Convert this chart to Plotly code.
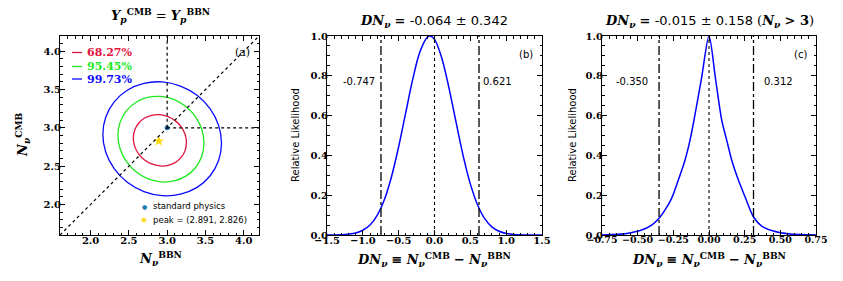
import plotly.graph_objects as go

W, H = 843, 281

# ---------------- data ----------------
# panel (a): confidence contours (N_nu^BBN, N_nu^CMB)
c68_x = [3.252, 3.235, 3.186, 3.109, 3.012, 2.905, 2.798, 2.701, 2.624, 2.575,
         2.558, 2.575, 2.624, 2.701, 2.798, 2.905, 3.012, 3.109, 3.186, 3.235]
c68_y = [2.808, 2.913, 3.010, 3.091, 3.146, 3.172, 3.164, 3.125, 3.057, 2.968,
         2.866, 2.761, 2.664, 2.583, 2.528, 2.502, 2.510, 2.549, 2.617, 2.706]
c95_x = [3.481, 3.453, 3.374, 3.249, 3.093, 2.919, 2.745, 2.589, 2.464, 2.385,
         2.357, 2.385, 2.464, 2.589, 2.745, 2.919, 3.093, 3.249, 3.374, 3.453]
c95_y = [2.803, 2.978, 3.140, 3.275, 3.368, 3.410, 3.397, 3.332, 3.219, 3.071,
         2.901, 2.726, 2.564, 2.429, 2.336, 2.294, 2.307, 2.372, 2.485, 2.633]
c99_x = [3.710, 3.672, 3.562, 3.391, 3.174, 2.935, 2.696, 2.479, 2.308, 2.198,
         2.160, 2.198, 2.308, 2.479, 2.696, 2.935, 3.174, 3.391, 3.562, 3.672]
c99_y = [2.800, 3.032, 3.247, 3.425, 3.546, 3.600, 3.581, 3.492, 3.340, 3.141,
         2.914, 2.682, 2.467, 2.289, 2.168, 2.114, 2.133, 2.222, 2.374, 2.573]
contour_labels = ["68.27%", "95.45%", "99.73%"]
contour_colors = ["#e0143c", "#1ee81e", "#0a0aff"]

std_point = (3.0, 3.0)
peak_point = (2.891, 2.826)

# panel (b): relative likelihood of DN_nu
b_x = [-1.5, -1.4, -1.3, -1.2, -1.1, -1.0, -0.9, -0.8, -0.7, -0.6, -0.5, -0.4, -0.3, -0.2, -0.1, -0.064,
       0.0, 0.1, 0.2, 0.3, 0.4, 0.5, 0.6, 0.7, 0.8, 0.9, 1.0, 1.1, 1.2, 1.3, 1.4, 1.5]
b_y = [0.000, 0.000, 0.001, 0.004, 0.010, 0.024, 0.050, 0.099, 0.177, 0.293, 0.444, 0.617, 0.788, 0.924, 0.994, 1.000,
       0.983, 0.891, 0.742, 0.568, 0.398, 0.257, 0.152, 0.082, 0.041, 0.019, 0.008, 0.003, 0.001, 0.000, 0.000, 0.000]
b_bounds = [-0.747, 0.621]

# panel (c): relative likelihood of DN_nu for N_nu > 3
c_x = [-0.75, -0.694, -0.577, -0.472, -0.402, -0.350, -0.308, -0.262, -0.215, -0.168, -0.133, -0.105, -0.052, 0.0,
       0.045, 0.089, 0.124, 0.159, 0.206, 0.252, 0.287, 0.313, 0.369, 0.451, 0.568, 0.708, 0.75]
c_y = [0.000, 0.002, 0.008, 0.025, 0.050, 0.084, 0.126, 0.184, 0.276, 0.377, 0.477, 0.578, 0.789, 1.000,
       0.789, 0.578, 0.477, 0.377, 0.276, 0.193, 0.129, 0.089, 0.045, 0.020, 0.005, 0.001, 0.000]
c_bounds = [-0.350, 0.312]

# ---------------- figure ----------------
fig = go.Figure()

def closed(a):
    return list(a) + [a[0]]

for xs, ys, col in [(c68_x, c68_y, contour_colors[0]), (c95_x, c95_y, contour_colors[1]), (c99_x, c99_y, contour_colors[2])]:
    fig.add_trace(go.Scatter(x=closed(xs), y=closed(ys), mode="lines",
                             line=dict(color=col, width=1.3, shape="spline", smoothing=1.0),
                             xaxis="x", yaxis="y", showlegend=False, hoverinfo="skip"))

fig.add_trace(go.Scatter(x=[std_point[0]], y=[std_point[1]], mode="markers",
                         marker=dict(color="#1f77b4", size=5), xaxis="x", yaxis="y", showlegend=False))
fig.add_trace(go.Scatter(x=[peak_point[0]], y=[peak_point[1]], mode="markers",
                         marker=dict(color="#ffd700", size=8, symbol="star"), xaxis="x", yaxis="y", showlegend=False))

fig.add_trace(go.Scatter(x=b_x, y=b_y, mode="lines", line=dict(color="#0000ff", width=1.5, shape="spline"),
                         xaxis="x2", yaxis="y2", showlegend=False))
fig.add_trace(go.Scatter(x=c_x, y=c_y, mode="lines", line=dict(color="#0000ff", width=1.5, shape="spline", smoothing=0.8),
                         xaxis="x3", yaxis="y3", showlegend=False))

# ---------------- axes ----------------
ydom = [46 / H, 245 / H]

def axis(dom, rng, dtick, mdtick, fmt, anchor, fsize=10):
    return dict(domain=dom, range=rng, dtick=dtick, tick0=0, tickformat=fmt, tickangle=0,
                showgrid=False, zeroline=False, showline=True, linecolor="black", linewidth=1,
                mirror="ticks", ticks="inside", ticklen=5, tickwidth=1, tickcolor="black",
                tickfont=dict(family="DejaVu Serif", size=fsize, color="black", weight="bold"),
                anchor=anchor, ticklabelstandoff=-4, automargin=False,
                minor=dict(dtick=mdtick, ticks="inside", ticklen=2.5, tickwidth=0.8, tickcolor="black", showgrid=False))

fig.update_layout(
    xaxis=axis([60 / W, 259 / W], [1.6, 4.2], 0.5, 0.1, ".1f", "y"),
    yaxis=axis(ydom, [1.6, 4.2], 0.5, 0.1, ".1f", "x"),
    xaxis2=axis([327 / W, 542 / W], [-1.5, 1.5], 0.5, 0.1, ".1f", "y2"),
    yaxis2=axis(ydom, [0, 1], 0.2, 0.05, ".1f", "x2"),
    xaxis3=axis([602 / W, 816 / W], [-0.75, 0.75], 0.25, 0.05, ".2f", "y3", fsize=9.5),
    yaxis3=axis(ydom, [0, 1], 0.2, 0.05, ".1f", "x3"),
)
fig.layout.xaxis.tickvals = [2.0, 2.5, 3.0, 3.5, 4.0]
fig.layout.yaxis.tickvals = [2.0, 2.5, 3.0, 3.5, 4.0]

# ---------------- reference lines ----------------
shapes = []
dot = dict(color="black", width=1.2, dash="dot")
shapes.append(dict(type="line", xref="x", yref="y", x0=1.6, y0=1.6, x1=4.2, y1=4.2, line=dot))
shapes.append(dict(type="line", xref="x", yref="y", x0=std_point[0], y0=std_point[1], x1=std_point[0], y1=4.2, line=dot))
shapes.append(dict(type="line", xref="x", yref="y", x0=std_point[0], y0=std_point[1], x1=4.2, y1=std_point[1], line=dot))
for xr, yr, bounds in [("x2", "y2", b_bounds), ("x3", "y3", c_bounds)]:
    for bx in bounds:
        shapes.append(dict(type="line", xref=xr, yref=yr, x0=bx, x1=bx, y0=0, y1=1,
                           line=dict(color="black", width=1.3, dash="dashdot")))
    shapes.append(dict(type="line", xref=xr, yref=yr, x0=0, x1=0, y0=0, y1=1,
                       line=dict(color="black", width=1.1, dash="dot")))

# legend glyph lines panel (a)
leg_y_px = [52.5, 66.5, 79]
for yy, col in zip(leg_y_px, contour_colors):
    shapes.append(dict(type="line", xref="paper", yref="paper", x0=72 / W, x1=82 / W,
                       y0=1 - yy / H, y1=1 - yy / H, line=dict(color=col, width=1.3)))
fig.update_layout(shapes=shapes)

# ---------------- text ----------------
ann = []
def A(text, x, y, size=10, family="DejaVu Sans", color="black", xanchor="center", yanchor="middle", angle=0):
    ann.append(dict(text=text, x=x / W, y=1 - y / H, xref="paper", yref="paper", showarrow=False,
                    xanchor=xanchor, yanchor=yanchor, textangle=angle,
                    font=dict(family=family, size=size, color=color)))

serif = "DejaVu Serif"
# titles
A("<b><i>Y</i></b><sub><b><i>p</i></b></sub><sup><b>CMB</b></sup> = <b><i>Y</i></b><sub><b><i>p</i></b></sub><sup><b>BBN</b></sup>",
  160, 15, size=13, family=serif)
A("<b><i>DN</i></b><sub><b><i>ν</i></b></sub> <b>=</b> <span style='font-family:DejaVu Sans'>-0.064 ± 0.342</span>",
  434, 22, size=13, family=serif)
A("<b><i>DN</i></b><sub><b><i>ν</i></b></sub> <b>=</b> <span style='font-family:DejaVu Sans'>-0.015 ± 0.158</span> (<b><i>N</i></b><sub><b><i>ν</i></b></sub> <b>&gt; 3</b>)",
  709, 22, size=13, family=serif)

# axis titles
A("<b><i>N</i></b><sub><b><i>ν</i></b></sub><sup><b>BBN</b></sup>", 160, 258, size=13, family=serif)
A("<b><i>N</i></b><sub><b><i>ν</i></b></sub><sup><b>CMB</b></sup>", 22, 135, size=13, family=serif, angle=-90)
xlab = "<b><i>DN</i></b><sub><b><i>ν</i></b></sub> <b>≡</b> <b><i>N</i></b><sub><b><i>ν</i></b></sub><sup><b>CMB</b></sup> <b>−</b> <b><i>N</i></b><sub><b><i>ν</i></b></sub><sup><b>BBN</b></sup>"
A(xlab, 434, 259, size=13, family=serif)
A(xlab, 709, 259, size=13, family=serif)
A("Relative Likelihood", 295, 135, size=10, angle=-90)
A("Relative Likelihood", 572, 135, size=10, angle=-90)

# panel labels
A("(a)", 242, 53, size=11, family=serif)
A("(b)", 526, 54, size=10)
A("(c)", 800, 54, size=10)

# bound values
A(f"{b_bounds[0]:.3f}", 359, 82, size=10)
A(f"{b_bounds[1]:.3f}", 497, 82, size=10)
A(f"{c_bounds[0]:.3f}", 632, 82, size=10)
A(f"{c_bounds[1]:.3f}", 778, 82, size=10)

# legend (a) text
for yy, col, lab in zip(leg_y_px, contour_colors, contour_labels):
    A(f"<b>{lab}</b>", 85, yy, size=11, family=serif, color=col, xanchor="left")

A("●", 144, 206, size=6, color="#1f77b4")
A("★", 144, 220, size=9, color="#ffd700")
A("standard physics", 151, 206, size=8.5, xanchor="left")
A(f"peak = ({peak_point[0]:.3f}, {peak_point[1]:.3f})", 151, 220, size=8.5, xanchor="left")

fig.update_layout(annotations=ann, width=W, height=H, margin=dict(l=0, r=0, t=0, b=0, autoexpand=False),
                  paper_bgcolor="white", plot_bgcolor="white", showlegend=False)

fig.write_html("out.html", config={"displayModeBar": False},
               post_script="document.body.style.margin='0px';document.body.style.overflow='hidden';")
